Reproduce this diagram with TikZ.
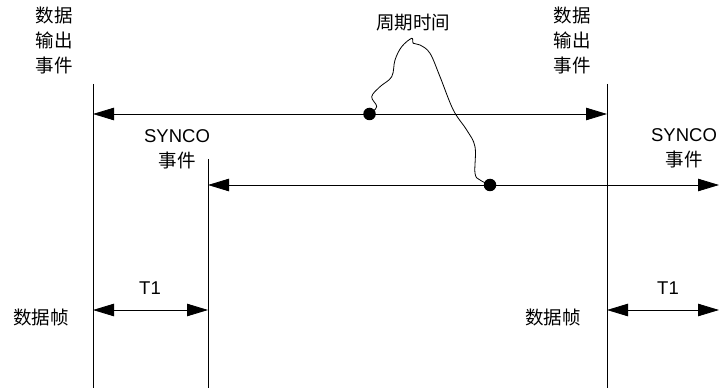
\documentclass[tikz,border=0pt]{standalone}
\usepackage{fontspec}
\setmainfont{Liberation Sans}
\newfontfamily\cjk{Noto Sans CJK SC}
\usetikzlibrary{arrows.meta}
\begin{document}
\begin{tikzpicture}[x=1pt,y=-1pt,
  lbl/.style={align=center,inner sep=0pt,font=\fontsize{18.5}{25}\selectfont},
  vline/.style={line width=0.8pt},
  harrow/.style={line width=0.8pt,{Triangle[length=21pt,width=12.5pt]}-{Triangle[length=21pt,width=12.5pt]}},
  dotnode/.style={circle,fill=black,inner sep=0pt,minimum size=12.5pt},
  wiggle/.style={line width=0.8pt}]
\useasboundingbox (0,0) rectangle (720,390);
% vertical lines
\coordinate (A1) at (93,84);  \coordinate (A2) at (93,388);
\coordinate (B1) at (208,159); \coordinate (B2) at (208,388);
\coordinate (C1) at (607,84);  \coordinate (C2) at (607,388);
\draw[vline] (A1) -- (A2);
\draw[vline] (B1) -- (B2);
\draw[vline] (C1) -- (C2);
% horizontal arrows
\coordinate (h1l) at (93,114); \coordinate (h1r) at (607,114);
\coordinate (h2l) at (208,185); \coordinate (h2r) at (719,185);
\coordinate (t1l) at (93,310); \coordinate (t1r) at (208,310);
\coordinate (t2l) at (607,310); \coordinate (t2r) at (719,310);
\draw[harrow] (h1l) -- (h1r);
\draw[harrow] (h2l) -- (h2r);
\draw[harrow] (t1l) -- (t1r);
\draw[harrow] (t2l) -- (t2r);
% dots
\node[dotnode] (d1) at (369.5,114) {};
\node[dotnode] (d2) at (490,185) {};
% wiggly curve
\draw[wiggle] plot[smooth,tension=0.6] coordinates {
 (369.5,114) (376.7,106.7) (371.7,96.7) (380,86.7) (391.7,76.7) (395,60)
 (401.7,46.7) (411.7,38.3) (413.3,43.3) (420,45) (430,53.3) (440,76.7)
 (453.3,110) (466.7,130) (475,146.7) (475,173.3) (480,180) (490,185)};
% labels
\node[lbl] (ev1) at (54,40) {\cjk 数据\\\cjk 输出\\\cjk 事件};
\node[lbl] (ev2) at (572,40) {\cjk 数据\\\cjk 输出\\\cjk 事件};
\node[lbl] (cyc) at (413,23) {\cjk 周期时间};
\node[lbl] (sy1) at (177,149) {SYNCO\\\cjk 事件};
\node[lbl] (sy2) at (684,148) {SYNCO\\\cjk 事件};
\node[lbl] (tt1) at (150,288) {T1};
\node[lbl] (tt2) at (668,288) {T1};
\node[lbl] (df1) at (41,317) {\cjk 数据帧};
\node[lbl] (df2) at (553,317) {\cjk 数据帧};
\end{tikzpicture}
\end{document}
